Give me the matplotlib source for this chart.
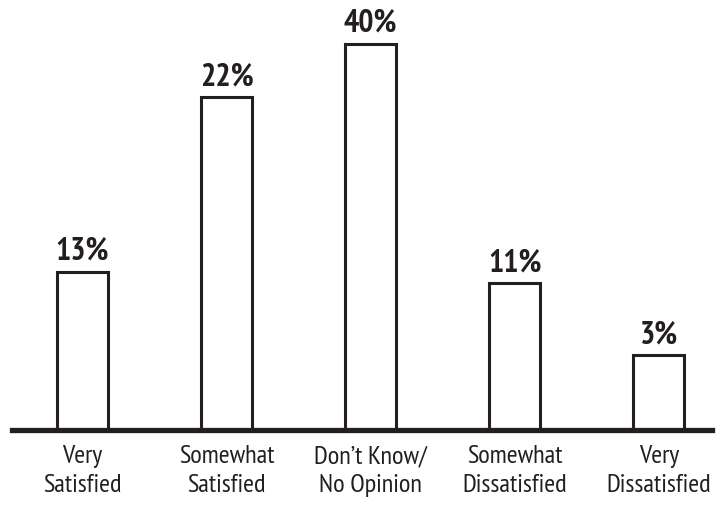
import matplotlib
matplotlib.use("Agg")
import matplotlib.pyplot as plt
import numpy as np

categories = ["Very\nSatisfied", "Somewhat\nSatisfied", "Don\u2019t Know/\nNo Opinion",
              "Somewhat\nDissatisfied", "Very\nDissatisfied"]
percent_values = [13, 22, 40, 11, 3]
# bar heights as drawn in the picture (they are not proportional to the labels)
bar_heights = [158, 333, 386, 147, 75]

plt.rcParams['font.family'] = ['PT Sans Narrow', 'DejaVu Sans']
ink = '#231f20'

fig = plt.figure(figsize=(7.25, 5.07), dpi=100)
ax = fig.add_axes([12 / 725, 1 - 430 / 507, 700 / 725, 430 / 507])

x = np.arange(len(categories))
bars = ax.bar(x, bar_heights, width=0.355, color='white', edgecolor=ink, linewidth=2.2, zorder=2)

for b, v in zip(bars, percent_values):
    ax.text(b.get_x() + b.get_width() / 2, b.get_height() + 5, '%d%%' % v,
            ha='center', va='bottom', fontsize=23, fontweight='bold', color=ink)

ax.set_xlim(-0.49, 4.37)
ax.set_ylim(0, 430)
ax.axhline(0, color=ink, linewidth=3.8, zorder=3, clip_on=False)

for s in ax.spines.values():
    s.set_visible(False)
ax.set_yticks([])
ax.set_xticks(x)
ax.set_xticklabels(categories, fontsize=19, color=ink, linespacing=1.3)
ax.tick_params(axis='x', length=0, pad=11)

fig.savefig('out.png', dpi=100)
